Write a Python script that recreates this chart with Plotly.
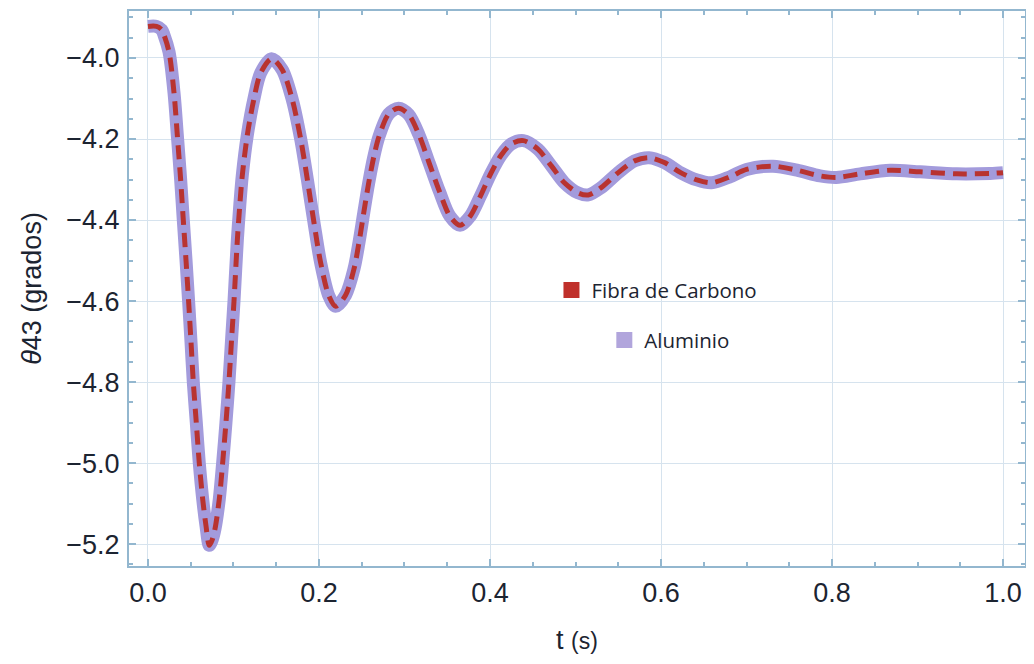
import plotly.graph_objects as go

# time (s)
t = [0.000, 0.010, 0.016, 0.0187, 0.0246, 0.0304, 0.0343, 0.0382, 0.0413, 0.0445,
     0.0475, 0.0503, 0.0530, 0.0565, 0.0600, 0.0640, 0.0678, 0.0717, 0.0750, 0.0784,
     0.0834, 0.0873, 0.0912, 0.0947, 0.0979, 0.1006, 0.1045, 0.1075, 0.1103, 0.1162,
     0.1240, 0.1318, 0.1446, 0.1570, 0.1688, 0.1786, 0.1864, 0.1942, 0.2020, 0.2117,
     0.2195, 0.2312, 0.2410, 0.2468, 0.2525, 0.2580, 0.2640, 0.2700, 0.2816, 0.2930,
     0.305, 0.317, 0.329, 0.341, 0.353, 0.365, 0.377, 0.389, 0.401, 0.413, 0.425, 0.439,
     0.456, 0.472, 0.487, 0.503, 0.515, 0.530, 0.550, 0.569, 0.586, 0.604, 0.623, 0.642,
     0.659, 0.681, 0.700, 0.731, 0.759, 0.786, 0.805, 0.833, 0.868, 0.903, 0.946, 0.985, 1.0]

# theta43 (grados) - Fibra de Carbono
theta_carbono = [-3.922, -3.922, -3.930, -3.943, -3.985, -4.085, -4.190, -4.300, -4.400, -4.500,
                 -4.600, -4.700, -4.800, -4.900, -5.000, -5.089, -5.154, -5.203, -5.190, -5.162,
                 -5.089, -5.000, -4.900, -4.800, -4.690, -4.600, -4.450, -4.360, -4.290, -4.190,
                 -4.100, -4.037, -4.002, -4.029, -4.103, -4.200, -4.300, -4.407, -4.506, -4.588,
                 -4.613, -4.585, -4.520, -4.455, -4.380, -4.310, -4.245, -4.195, -4.138, -4.124,
                 -4.140, -4.190, -4.260, -4.330, -4.390, -4.413, -4.390, -4.340, -4.285, -4.240, -4.212, -4.204,
                 -4.225, -4.267, -4.308, -4.333, -4.338, -4.320, -4.283, -4.254, -4.246, -4.258, -4.283, -4.301,
                 -4.308, -4.293, -4.275, -4.267, -4.277, -4.291, -4.295, -4.286, -4.277, -4.281, -4.286, -4.285, -4.283]

# theta43 (grados) - Aluminio (visually identical)
theta_aluminio = [-3.922, -3.922, -3.930, -3.943, -3.985, -4.085, -4.190, -4.300, -4.400, -4.500,
                  -4.600, -4.700, -4.800, -4.900, -5.000, -5.089, -5.154, -5.203, -5.190, -5.162,
                  -5.089, -5.000, -4.900, -4.800, -4.690, -4.600, -4.450, -4.360, -4.290, -4.190,
                  -4.100, -4.037, -4.002, -4.029, -4.103, -4.200, -4.300, -4.407, -4.506, -4.588,
                  -4.613, -4.585, -4.520, -4.455, -4.380, -4.310, -4.245, -4.195, -4.138, -4.124,
                  -4.140, -4.190, -4.260, -4.330, -4.390, -4.413, -4.390, -4.340, -4.285, -4.240, -4.212, -4.204,
                  -4.225, -4.267, -4.308, -4.333, -4.338, -4.320, -4.283, -4.254, -4.246, -4.258, -4.283, -4.301,
                  -4.308, -4.293, -4.275, -4.267, -4.277, -4.291, -4.295, -4.286, -4.277, -4.281, -4.286, -4.285, -4.283]

x_ticks = [0.0, 0.2, 0.4, 0.6, 0.8, 1.0]
x_ticklabels = ["0.0", "0.2", "0.4", "0.6", "0.8", "1.0"]
y_ticks = [-4.0, -4.2, -4.4, -4.6, -4.8, -5.0, -5.2]
y_ticklabels = ["\u22124.0", "\u22124.2", "\u22124.4", "\u22124.6", "\u22124.8", "\u22125.0", "\u22125.2"]

RED = "#b83330"
LAV = "#a39bdc"
FRAME = "#93b7cf"
GRID = "#d6e3ee"
TXT = "#1c2431"
FONT = "Liberation Sans, Arial, sans-serif"

fig = go.Figure()

fig.add_trace(go.Scatter(x=t, y=theta_aluminio, mode="lines", name="Aluminio",
                         line=dict(color=LAV, width=13, shape="spline", smoothing=0.85),
                         showlegend=False))
fig.add_trace(go.Scatter(x=t, y=theta_carbono, mode="lines", name="Fibra de Carbono",
                         line=dict(color=RED, width=5, dash="14px,8px", shape="spline", smoothing=0.85),
                         showlegend=False))

# legend entries (square swatches)
fig.add_trace(go.Scatter(x=[None], y=[None], mode="markers", name="Fibra de Carbono",
                         marker=dict(symbol="square", size=16, color="#c0302b"),
                         legend="legend"))
fig.add_trace(go.Scatter(x=[None], y=[None], mode="markers", name="Aluminio",
                         marker=dict(symbol="square", size=16, color="#b1a5dc"),
                         legend="legend2"))

axis_common = dict(
    showline=True, linecolor=FRAME, linewidth=2, mirror="ticks",
    ticks="inside", ticklen=7, tickwidth=1.5, tickcolor=FRAME,
    showgrid=True, gridcolor=GRID, gridwidth=1.2, zeroline=False,
    automargin=False,
    tickfont=dict(family=FONT, size=27, color=TXT),
)

fig.update_xaxes(
    **axis_common,
    range=[-0.0222, 1.0257],
    tickvals=x_ticks, ticktext=x_ticklabels,
    minor=dict(ticks="inside", ticklen=4, tickcolor=FRAME, dtick=0.05, tick0=0, showgrid=False),
    ticklabelstandoff=2,
    title=dict(text="t <span style='font-size:23px'>(s)</span>",
               font=dict(family=FONT, size=27, color=TXT),
               standoff=23),
)
fig.update_yaxes(
    **axis_common,
    range=[-5.254, -3.884],
    tickvals=y_ticks, ticktext=y_ticklabels,
    minor=dict(ticks="inside", ticklen=4, tickcolor=FRAME, dtick=0.05, tick0=-4.0, showgrid=False),
    ticklabelstandoff=2,
    title=dict(text="<i>\u03b8</i>43 (grados)",
               font=dict(family=FONT, size=27, color=TXT),
               standoff=17),
)

# page body has an 8px margin, so the figure is 16px smaller than the window
legend_font = dict(family="Open Sans, sans-serif", size=20.5, color=TXT)
fig.update_layout(
    width=1018, height=648,
    margin=dict(l=121, r=1, t=3, b=90),
    plot_bgcolor="white", paper_bgcolor="white",
    legend=dict(x=0.4715, y=0.497, xanchor="left", yanchor="middle",
                bgcolor="rgba(0,0,0,0)", borderwidth=0, font=legend_font),
    legend2=dict(x=0.5305, y=0.407, xanchor="left", yanchor="middle",
                 bgcolor="rgba(0,0,0,0)", borderwidth=0, font=legend_font),
)

fig.write_html("out.html")
